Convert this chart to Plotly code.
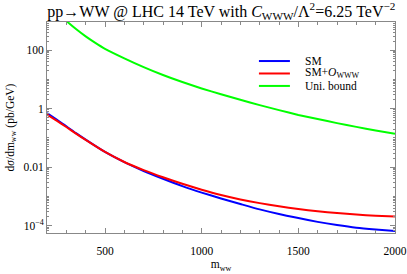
import plotly.graph_objects as go

m_ww = [200, 250, 300, 350, 400, 500, 600, 700, 800, 900, 1000,
        1100, 1200, 1300, 1400, 1500, 1600, 1700, 1800, 1900, 2000]

sm = [7.1e-1, 4.2e-1, 2.5e-1, 1.45e-1, 8.7e-2, 3.3e-2, 1.48e-2, 7.4e-3,
      4.0e-3, 2.24e-3, 1.35e-3, 8.5e-4, 5.5e-4, 3.6e-4, 2.5e-4, 1.82e-4,
      1.35e-4, 1.05e-4, 8.5e-5, 7.4e-5, 6.6e-5]

sm_owww = [6.3e-1, 3.9e-1, 2.35e-1, 1.4e-1, 8.5e-2, 3.3e-2, 1.5e-2, 7.9e-3,
           4.5e-3, 2.7e-3, 1.7e-3, 1.12e-3, 7.9e-4, 5.9e-4, 4.6e-4, 3.7e-4,
           3.1e-4, 2.7e-4, 2.4e-4, 2.2e-4, 2.05e-4]

m_ub = [290, 300, 350, 400, 450, 500, 600, 700, 800, 900, 1000, 1100,
        1200, 1300, 1400, 1500, 1600, 1700, 1800, 1900, 2000]
uni_bound = [1180, 1000, 524, 295, 177, 111, 52.5, 26.3, 14.1, 8.1, 4.9, 3.09,
             2.0, 1.32, 0.89, 0.61, 0.44, 0.32, 0.238, 0.180, 0.138]

legend_labels = ["SM", "SM+<i>O</i><sub>WWW</sub>", "Uni. bound"]
colors = ["#0000ff", "#ff0000", "#00ff00"]

y_tickvals = [100, 1, 0.01, 1e-4]
y_ticktext = ["100", "1", "0.01", "10<sup>\u22124</sup>"]
x_tickvals = [500, 1000, 1500, 2000]

font = "Liberation Serif, Times New Roman, DejaVu Serif, serif"
tfont = dict(family=font, size=11.5, color="black")

fig = go.Figure()
for xs, ys, name, c in [(m_ww, sm, legend_labels[0], colors[0]),
                        (m_ww, sm_owww, legend_labels[1], colors[1]),
                        (m_ub, uni_bound, legend_labels[2], colors[2])]:
    fig.add_trace(go.Scatter(x=xs, y=ys, mode="lines", name=name,
                             showlegend=False,
                             line=dict(color=c, width=2, shape="spline",
                                       smoothing=0.6)))

# manual legend (compact spacing as in the reference)
leg_y = [0.815, 0.756, 0.697]
for lab, c, yy in zip(legend_labels, colors, leg_y):
    fig.add_shape(type="line", xref="paper", yref="paper",
                  x0=0.609, x1=0.698, y0=yy, y1=yy,
                  line=dict(color=c, width=2))
    fig.add_annotation(xref="paper", yref="paper", x=0.736, y=yy,
                       xanchor="left", yanchor="middle", showarrow=False,
                       text=lab, font=tfont)

y_minor = []
for k in range(-5, 4):
    for j in range(1, 10):
        v = j * 10.0 ** k
        if v not in y_tickvals:
            y_minor.append(v)

fig.update_layout(
    width=407, height=274,
    margin=dict(l=47, r=12, t=22, b=41),
    paper_bgcolor="white", plot_bgcolor="white",
    font=dict(family=font, size=11.5, color="black"),
    title=dict(text="pp\u2192WW @ LHC 14 TeV with <i>C</i><sub>WWW</sub>/\u039b<sup>2</sup>=6.25 TeV<sup>\u22122</sup>",
               x=0.544, xanchor="center", y=0.958, yanchor="middle",
               font=dict(family=font, size=16, color="black")),
    showlegend=False,
    xaxis=dict(range=[200, 2000], tickvals=x_tickvals, tickfont=tfont,
               ticklabelstandoff=7, automargin=False,
               showgrid=False, zeroline=False, showline=True, linecolor="#888888",
               linewidth=1, mirror="ticks", ticks="inside", ticklen=5,
               tickcolor="#888888",
               minor=dict(tickvals=list(range(200, 2001, 100)), ticks="inside",
                          ticklen=3, tickcolor="#888888"),
               title=dict(text="m<sub>ww</sub>", standoff=4, font=tfont)),
    yaxis=dict(type="log", range=[-4.25, 2.96], tickvals=y_tickvals,
               ticktext=y_ticktext, tickfont=tfont, automargin=False,
               showgrid=False, zeroline=False, showline=True, linecolor="#888888",
               linewidth=1, mirror="ticks", ticks="inside", ticklen=5,
               tickcolor="#888888",
               minor=dict(tickvals=y_minor, ticks="inside", ticklen=2,
                          tickcolor="#888888"),
               title=dict(text="d<i>\u03c3</i>/dm<sub>ww</sub> (pb/GeV)", standoff=6,
                          font=tfont)),
)

fig.write_html("out.html",
               config={"displayModeBar": False},
               post_script="document.body.style.margin='0';document.body.style.overflow='hidden';")
